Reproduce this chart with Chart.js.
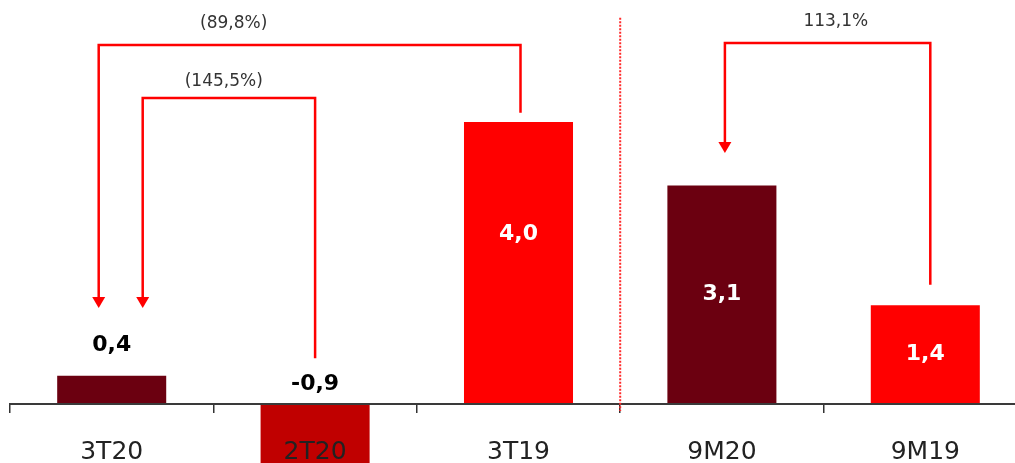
<!DOCTYPE html>
<html>
<head>
<meta charset="utf-8">
<script src="https://cdn.jsdelivr.net/npm/chart.js@4/dist/chart.umd.min.js"></script>
<style>
  html, body { margin: 0; padding: 0; background: #fff; overflow: hidden; }
  #wrap { width: 1027px; height: 463px; }
</style>
</head>
<body>
<div id="wrap"><canvas id="myChart"></canvas></div>
<script>
const categories = ['3T20', '2T20', '3T19', '9M20', '9M19'];
const values = [0.4, -0.9, 4.0, 3.1, 1.4];
const barColors = ['#6b0010', '#c00000', '#ff0000', '#6b0010', '#ff0000'];

// change arrows: from which bar to which bar, and the text on top
const changeLabels = ['(89,8%)', '(145,5%)', '113,1%'];
const changeFrom = ['3T19', '2T20', '9M19'];
const changeTo = ['3T20', '3T20', '9M20'];

// where the arrows sit, in y-axis units (and small px nudges)
const arrowLayout = [
    { level: 5.09, text: 5.40, textAt: 0.32, fromEnd: 4.13, fromDx: 2, toTip: 1.36, toDx: -13 },
    { level: 4.34, text: 4.58, textAt: 0.47, fromEnd: 0.65, fromDx: 0, toTip: 1.36, toDx: 31 },
    { level: 5.12, text: 5.42, textAt: 0.54, fromEnd: 1.69, fromDx: 5, toTip: 3.56, toDx: 3 }
];

const fmt = v => v.toFixed(1).replace('.', ',');

const valueLabels = {
    id: 'valueLabels',
    afterDatasetsDraw(chart) {
        const ctx = chart.ctx;
        const meta = chart.getDatasetMeta(0);
        const y0 = chart.scales.y.getPixelForValue(0);
        ctx.save();
        ctx.font = 'bold 22px "DejaVu Sans"';
        ctx.textAlign = 'center';
        ctx.textBaseline = 'middle';
        meta.data.forEach((bar, i) => {
            const v = values[i];
            const h = Math.abs(bar.base - bar.y);
            if (v < 0) {
                ctx.fillStyle = '#000';
                ctx.fillText(fmt(v), bar.x, y0 - 20);
            } else if (h < 60) {
                ctx.fillStyle = '#000';
                ctx.fillText(fmt(v), bar.x, bar.y - 31);
            } else {
                ctx.fillStyle = '#fff';
                ctx.fillText(fmt(v), bar.x, bar.y + Math.min(h / 2, 112));
            }
        });
        ctx.restore();
    }
};

const arrows = {
    id: 'arrows',
    afterDraw(chart) {
        const ctx = chart.ctx;
        const xs = chart.scales.x;
        const ys = chart.scales.y;
        ctx.save();

        // dotted separator between quarters and 9 months
        const sx = xs.getPixelForValue(2.5);
        ctx.strokeStyle = '#ff2a2a';
        ctx.lineWidth = 2;
        ctx.setLineDash([2, 1.5]);
        ctx.beginPath();
        ctx.moveTo(sx, ys.getPixelForValue(5.48));
        ctx.lineTo(sx, ys.getPixelForValue(-0.1));
        ctx.stroke();
        ctx.setLineDash([]);

        ctx.strokeStyle = '#ff0000';
        ctx.fillStyle = '#ff0000';
        ctx.lineWidth = 2.5;
        ctx.lineJoin = 'miter';
        changeLabels.forEach((label, i) => {
            const a = arrowLayout[i];
            const xf = xs.getPixelForValue(categories.indexOf(changeFrom[i])) + a.fromDx;
            const xt = xs.getPixelForValue(categories.indexOf(changeTo[i])) + a.toDx;
            const yl = ys.getPixelForValue(a.level);
            const tip = ys.getPixelForValue(a.toTip);
            ctx.beginPath();
            ctx.moveTo(xf, ys.getPixelForValue(a.fromEnd));
            ctx.lineTo(xf, yl);
            ctx.lineTo(xt, yl);
            ctx.lineTo(xt, tip - 9);
            ctx.stroke();
            ctx.beginPath();
            ctx.moveTo(xt - 6.5, tip - 11);
            ctx.lineTo(xt + 6.5, tip - 11);
            ctx.lineTo(xt, tip);
            ctx.closePath();
            ctx.fill();

            ctx.fillStyle = '#333';
            ctx.font = '17px "DejaVu Sans"';
            ctx.textAlign = 'center';
            ctx.textBaseline = 'middle';
            ctx.fillText(label, xt + (xf - xt) * a.textAt, ys.getPixelForValue(a.text));
            ctx.fillStyle = '#ff0000';
        });
        ctx.restore();
    }
};

const chart = new Chart('myChart', {
    type: 'bar',
    plugins: [valueLabels, arrows],
    data: {
        labels: categories,
        datasets: [{
            data: values,
            backgroundColor: barColors,
            borderWidth: 0,
            categoryPercentage: 1,
            barPercentage: 0.536
        }]
    },
    options: {
        responsive: true,
        maintainAspectRatio: false,
        animation: false,
        layout: {
            padding: { left: 10, right: 0, top: 0, bottom: 0 }
        },
        plugins: {
            legend: { display: false },
            tooltip: { enabled: false }
        },
        scales: {
            x: {
                position: { y: 0 },
                offset: true,
                grid: {
                    offset: true,
                    drawOnChartArea: false,
                    drawTicks: true,
                    tickLength: 8,
                    color: '#333',
                    lineWidth: 1.5,
                    z: 1
                },
                border: { display: true, color: '#3a3a3a', width: 2, z: 1 },
                ticks: {
                    color: '#222',
                    font: { family: 'DejaVu Sans', size: 25 },
                    padding: 26,
                    maxRotation: 0,
                    autoSkip: false,
                    z: 1
                }
            },
            y: {
                display: false,
                min: -0.837,
                max: 5.73
            }
        }
    }
});
</script>
</body>
</html>
